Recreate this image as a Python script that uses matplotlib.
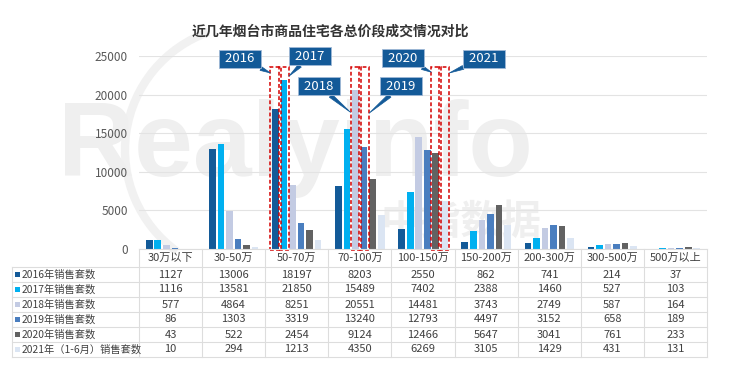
import numpy as np
import matplotlib
matplotlib.use("Agg")
import matplotlib.pyplot as plt
from matplotlib.patches import Rectangle, Arc
from matplotlib.lines import Line2D

plt.rcParams['font.family'] = ['Noto Sans CJK SC', 'DejaVu Sans']

# 数据
categories = ["30万以下", "30-50万", "50-70万", "70-100万", "100-150万",
              "150-200万", "200-300万", "300-500万", "500万以上"]
series_names = ["2016年销售套数", "2017年销售套数", "2018年销售套数",
                "2019年销售套数", "2020年销售套数", "2021年（1-6月）销售套数"]
s2016 = [1127, 13006, 18197, 8203, 2550, 862, 741, 214, 37]
s2017 = [1116, 13581, 21850, 15489, 7402, 2388, 1460, 527, 103]
s2018 = [577, 4864, 8251, 20551, 14481, 3743, 2749, 587, 164]
s2019 = [86, 1303, 3319, 13240, 12793, 4497, 3152, 658, 189]
s2020 = [43, 522, 2454, 9124, 12466, 5647, 3041, 761, 233]
s2021 = [10, 294, 1213, 4350, 6269, 3105, 1429, 431, 131]
all_series = [s2016, s2017, s2018, s2019, s2020, s2021]
colors = ["#135a98", "#00b0f0", "#c3cbe3", "#4a7ebf", "#626262", "#dbe5f3"]

# 标注：年份 -> (类别序号, 系列序号)
callouts = [("2016", 2, 0), ("2017", 2, 1), ("2018", 3, 2),
            ("2019", 3, 3), ("2020", 4, 4), ("2021", 4, 5)]

W, H = 740, 374
def fx(x):
    return x / W
def fy(y):
    return 1 - y / H

fig = plt.figure(figsize=(7.4, 3.74), dpi=100)
fig.patch.set_facecolor("white")

# 水印
wm = "#efefef"
fig.text(fx(58), fy(176), "Realyinfo", fontsize=76, color=wm,
         family="Liberation Sans", weight="bold", zorder=-2)
fig.text(fx(380), fy(234), "中指数据", fontsize=29, color=wm,
         weight="bold", zorder=-2)
fig.add_artist(Arc((fx(250), fy(150)), 250 / W, 250 / H, theta1=100, theta2=250,
                   transform=fig.transFigure, ec="#f1f1f1", lw=6, zorder=-2))

left, right, top, bottom = 139, 707, 56, 249
ax = fig.add_axes([fx(left), fy(bottom), fx(right) - fx(left), fy(top) - fy(bottom)])
ax.set_facecolor("none")

x = np.arange(len(categories))
step = 0.135
width = 0.105
offsets = (np.arange(6) - 2.5) * step
for j, vals in enumerate(all_series):
    ax.bar(x + offsets[j], vals, width=width, color=colors[j], zorder=3)

ax.set_xlim(-0.5, len(categories) - 0.5)
ax.set_ylim(0, 25000)
ax.set_yticks(range(0, 25001, 5000))
ax.tick_params(axis="y", length=0, labelsize=8.5, labelcolor="#595959", pad=8)
ax.set_xticks([])
ax.grid(axis="y", color="#e3e3e3", lw=0.8, zorder=0)
for s in ax.spines.values():
    s.set_visible(False)

# 红色虚线框
for year, ci, sj in callouts:
    xc = ci + offsets[sj]
    ax.add_patch(Rectangle((xc - 0.08, -150), 0.16, 23700, fill=False,
                           ec="#d40000", ls=(0, (2.5, 1.5)), lw=1.1,
                           clip_on=False, zorder=5))

# 标注框
box_pos = {"2016": (240, 59), "2017": (310, 56), "2018": (319, 86),
           "2019": (401, 86), "2020": (403, 58), "2021": (484, 59)}
tip_side = {"2016": (-0.08, 22800), "2017": (0.08, 22400), "2018": (-0.08, 17700),
            "2019": (0.08, 17600), "2020": (-0.07, 22900), "2021": (0.08, 22800)}
for year, ci, sj in callouts:
    bx, by = box_pos[year]
    dx, ty = tip_side[year]
    ax.annotate(" " + year + " ", xy=(ci + offsets[sj] + dx, ty), xycoords="data",
                xytext=(bx, H - by), textcoords="figure pixels",
                ha="center", va="center", fontsize=9.5, color="white",
                bbox=dict(boxstyle="square,pad=0.22", fc="#135a98", ec="#9fb8d6", lw=0.6),
                arrowprops=dict(arrowstyle="wedge,tail_width=0.3,shrink_factor=0.5",
                                fc="#135a98", ec="#135a98", lw=0.5,
                                shrinkA=0, shrinkB=0),
                zorder=6, annotation_clip=False)

# 标题
fig.text(fx(330), fy(32), "近几年烟台市商品住宅各总价段成交情况对比", ha="center",
         va="center", fontsize=10, weight="bold", color="#333333")

# 数据表
line_c = "#dddddd"
col_w = (right - left) / len(categories)
row_top = 267
row_h = 15
n_rows = len(series_names)
table_bottom = row_top + n_rows * row_h
tleft = 12

def hline(y, x0, x1):
    fig.add_artist(Line2D([fx(x0), fx(x1)], [fy(y), fy(y)], color=line_c, lw=0.8,
                          transform=fig.transFigure))

def vline(xp, y0, y1):
    fig.add_artist(Line2D([fx(xp), fx(xp)], [fy(y0), fy(y1)], color=line_c, lw=0.8,
                          transform=fig.transFigure))

hline(bottom, left, right)
for r in range(n_rows + 1):
    hline(row_top + r * row_h, tleft, right)
vline(tleft, row_top, table_bottom)
for c in range(len(categories) + 1):
    vline(left + c * col_w, bottom, table_bottom)

for c, cat in enumerate(categories):
    fig.text(fx(left + (c + 0.5) * col_w), fy(258), cat, ha="center", va="center",
             fontsize=8, color="#404040")

for r, name in enumerate(series_names):
    yc = row_top + (r + 0.5) * row_h
    fig.add_artist(Rectangle((fx(15), fy(yc + 2.5)), 5 / W, 5 / H,
                             transform=fig.transFigure, fc=colors[r], ec="none"))
    fig.text(fx(22), fy(yc), name, ha="left", va="center", fontsize=7.4, color="#404040")
    for c, v in enumerate(all_series[r]):
        fig.text(fx(left + (c + 0.5) * col_w), fy(yc), str(v), ha="center",
                 va="center", fontsize=8, color="#404040")

fig.savefig("out.png", dpi=100)
